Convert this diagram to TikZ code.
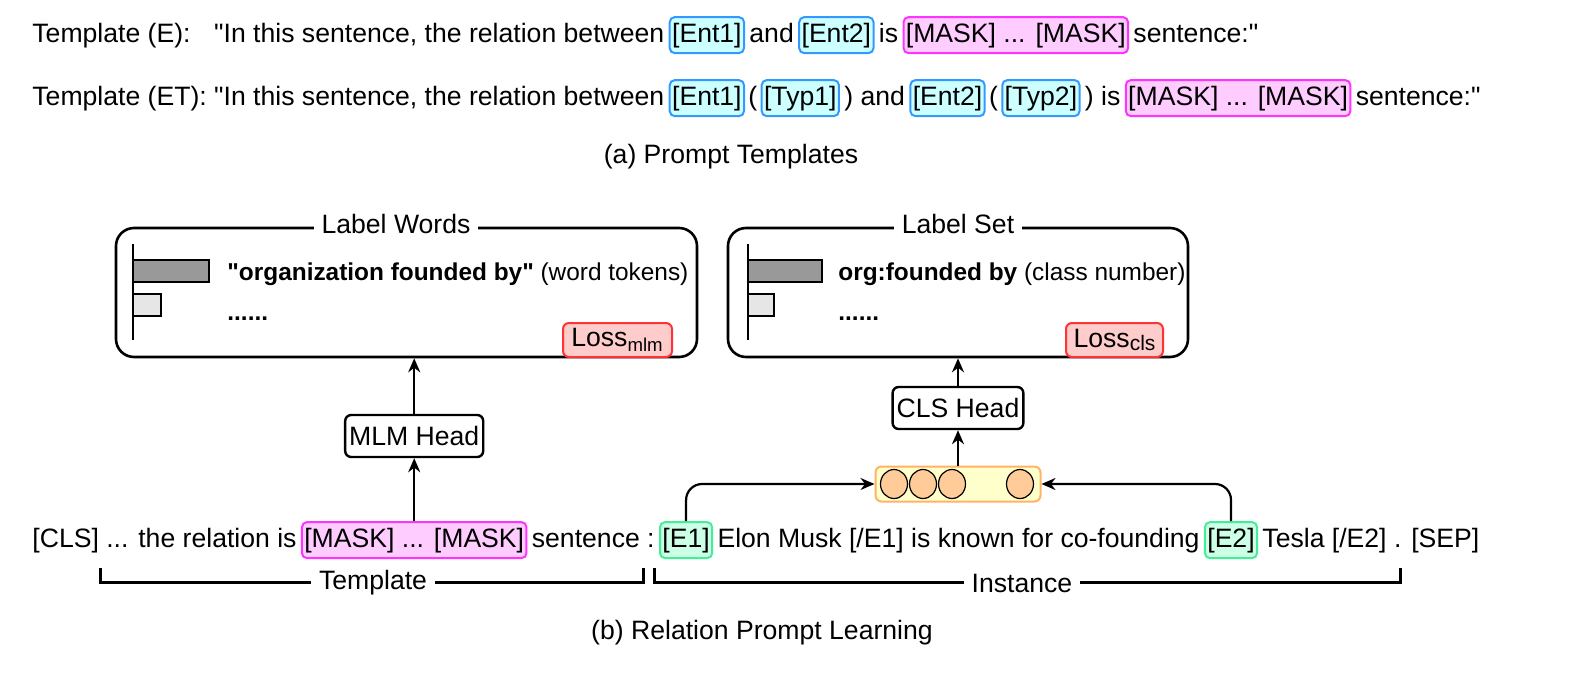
\documentclass[tikz,border=0pt]{standalone}
\usepackage{fontspec}
\setmainfont{Liberation Sans}[Ligatures=TeXOff]
\usetikzlibrary{arrows.meta,shapes.geometric}
\newcommand{\dq}{\char34\relax}
\definecolor{tagdraw}{HTML}{3399FF}
\definecolor{tagfill}{HTML}{CCFFFF}
\definecolor{maskdraw}{HTML}{FF33FF}
\definecolor{maskfill}{HTML}{FFCCFF}
\definecolor{edraw}{HTML}{44EE99}
\definecolor{efill}{HTML}{CCFFE6}
\definecolor{lossdraw}{HTML}{FF3333}
\definecolor{lossfill}{HTML}{FFCCCC}
\definecolor{vecdraw}{HTML}{FFB366}
\definecolor{vecfill}{HTML}{FFFFCC}
\definecolor{cellfill}{HTML}{FFCC99}
\definecolor{bardark}{HTML}{999999}
\definecolor{barlight}{HTML}{E6E6E6}
\begin{document}
\begin{tikzpicture}[x=0.5pt,y=-0.5pt,
  every node/.style={font=\fontsize{13.3}{16}\selectfont},
  txt/.style={inner sep=0pt, anchor=base west},
  boxtxt/.style={txt, font=\fontsize{12.2}{15}\selectfont},
  tagbase/.style={draw, rounded corners=2.5pt, line width=1pt, inner xsep=1.2pt, inner ysep=0pt, minimum height=18pt, anchor=base west},
  enttag/.style={tagbase, draw=tagdraw, fill=tagfill},
  masktag/.style={tagbase, draw=maskdraw, fill=maskfill},
  etag/.style={tagbase, draw=edraw, fill=efill},
  head/.style={draw, rounded corners=3pt, line width=1.2pt, fill=white, minimum height=21pt, inner xsep=2pt},
  bigbox/.style={draw, rounded corners=9pt, line width=1.3pt},
  lossbox/.style={draw=lossdraw, fill=lossfill, rounded corners=3pt, line width=1pt, minimum height=17pt, inner sep=0pt},
  vecbox/.style={draw=vecdraw, fill=vecfill, rounded corners=3pt, line width=1pt},
  cell/.style={ellipse, draw, fill=cellfill, line width=0.6pt, minimum width=13.5pt, minimum height=14.5pt, inner sep=0pt},
  ttl/.style={fill=white, inner xsep=4pt, inner ysep=1pt},
  arr/.style={line width=1.1pt, -{Stealth[length=7pt,width=6pt]}},
  brk/.style={line width=1.5pt},
  axis/.style={line width=1.3pt},
  bar/.style={draw, line width=1.2pt}
]
\useasboundingbox (0,0) rectangle (1587,675);

% ---------- (a) templates ----------
\node[txt] (r2a) at (32,105) {Template (ET): \dq In this sentence, the relation between};
\node[enttag] (r2e1) at ([xshift=2pt]r2a.base east) {[Ent1]};
\node[txt] (r2p1) at ([xshift=1.5pt]r2e1.base east) {(};
\node[enttag] (r2t1) at ([xshift=1.5pt]r2p1.base east) {[Typ1]};
\node[txt] (r2and) at ([xshift=2pt]r2t1.base east) {) and};
\node[enttag] (r2e2) at ([xshift=2pt]r2and.base east) {[Ent2]};
\node[txt] (r2p2) at ([xshift=1.5pt]r2e2.base east) {(};
\node[enttag] (r2t2) at ([xshift=1.5pt]r2p2.base east) {[Typ2]};
\node[txt] (r2is) at ([xshift=2pt]r2t2.base east) {) is};
\node[masktag] (r2m) at ([xshift=2pt]r2is.base east) {[MASK] ... [MASK]};
\node[txt] (r2s) at ([xshift=2pt]r2m.base east) {sentence:\dq};

\node[txt] (r1a) at (32,42) {Template (E):};
\node[txt, anchor=base east] (r1b) at (r2a.base east |- 0,42) {\dq In this sentence, the relation between};
\node[enttag] (r1e1) at ([xshift=2pt]r1b.base east) {[Ent1]};
\node[txt] (r1and) at ([xshift=2pt]r1e1.base east) {and};
\node[enttag] (r1e2) at ([xshift=2pt]r1and.base east) {[Ent2]};
\node[txt] (r1is) at ([xshift=2pt]r1e2.base east) {is};
\node[masktag] (r1m) at ([xshift=2pt]r1is.base east) {[MASK] ... [MASK]};
\node[txt] (r1s) at ([xshift=2pt]r1m.base east) {sentence:\dq};

\node (capa) at (731,157) {(a) Prompt Templates};

% ---------- (b) sentence ----------
\node[txt] (s1) at (32,547) {[CLS] ... the relation is};
\node[masktag] (smask) at ([xshift=2pt]s1.base east) {[MASK] ... [MASK]};
\node[txt] (s2) at ([xshift=2pt]smask.base east) {sentence :};
\node[etag] (se1) at ([xshift=2pt]s2.base east) {[E1]};
\node[txt] (s3) at ([xshift=2pt]se1.base east) {Elon Musk [/E1] is known for co-founding};
\node[etag] (se2) at ([xshift=2pt]s3.base east) {[E2]};
\node[txt] (s4) at ([xshift=2pt]se2.base east) {Tesla [/E2] . [SEP]};

% ---------- label boxes ----------
\node[bigbox, minimum width=290.5pt, minimum height=64.5pt] (lw) at (406.5,292.5) {};
\node[ttl] (lwt) at (396,224) {Label Words};
\draw[axis] (133,244) -- (133,340);
\draw[bar, fill=bardark] (133,260) rectangle (209,282);
\draw[bar, fill=barlight] (133,294) rectangle (161,316);
\node[boxtxt] (lw1) at (227,280) {\textbf{\dq organization founded by\dq} (word tokens)};
\node[boxtxt] (lw2) at (227,320) {\textbf{......}};
\node[lossbox, minimum width=54.5pt] (lm) at (617.5,340) {Loss\textsubscript{mlm}};

\node[bigbox, minimum width=230pt, minimum height=64.5pt] (ls) at (958,292.5) {};
\node[ttl] (lst) at (958,224) {Label Set};
\draw[axis] (748,244) -- (748,340);
\draw[bar, fill=bardark] (748,260) rectangle (822,282);
\draw[bar, fill=barlight] (748,294) rectangle (774,316);
\node[boxtxt] (ls1) at (838,280) {\textbf{org:founded by} (class number)};
\node[boxtxt] (ls2) at (838,320) {\textbf{......}};
\node[lossbox, minimum width=48.5pt] (lc) at (1114.5,340) {Loss\raisebox{-1.5pt}{\fontsize{10.5}{10}\selectfont cls}};

% ---------- heads ----------
\node[head, minimum width=62.5pt] (mlm) at (smask.north |- 0,436) {MLM Head};
\node[vecbox, minimum width=82.5pt, minimum height=17.5pt] (vec) at (958,484) {};
\node[cell] (c1) at ([xshift=-32pt]vec.center) {};
\node[cell] (c2) at ([xshift=-17.5pt]vec.center) {};
\node[cell] (c3) at ([xshift=-3pt]vec.center) {};
\node[cell] (c4) at ([xshift=31pt]vec.center) {};
\node[head, minimum width=65pt] (cls) at (vec.north |- 0,408) {CLS Head};

% ---------- arrows ----------
\draw[arr] (smask.north) -- (mlm.south);
\draw[arr] (mlm.north) -- (mlm.north |- lw.south);
\draw[arr] (vec.north) -- (cls.south);
\draw[arr] (cls.north) -- (cls.north |- ls.south);
\draw[arr, rounded corners=8pt] (se1.north) |- (vec.west);
\draw[arr, rounded corners=8pt] (se2.north) |- (vec.east);

% ---------- brackets ----------
\coordinate (tl) at (100,568);
\coordinate (tr) at (643,568);
\coordinate (il) at (654,568);
\coordinate (ir) at (1400,568);
\draw[brk] (tl) -- (tl |- 0,582) -- (tr |- 0,582) -- (tr);
\draw[brk] (il) -- (il |- 0,582) -- (ir |- 0,582) -- (ir);
\node[ttl] (tmpl) at (373,583) {Template};
\node[ttl] (inst) at (1022,583) {Instance};

\node (capb) at (762,633) {(b) Relation Prompt Learning};
\end{tikzpicture}
\end{document}
